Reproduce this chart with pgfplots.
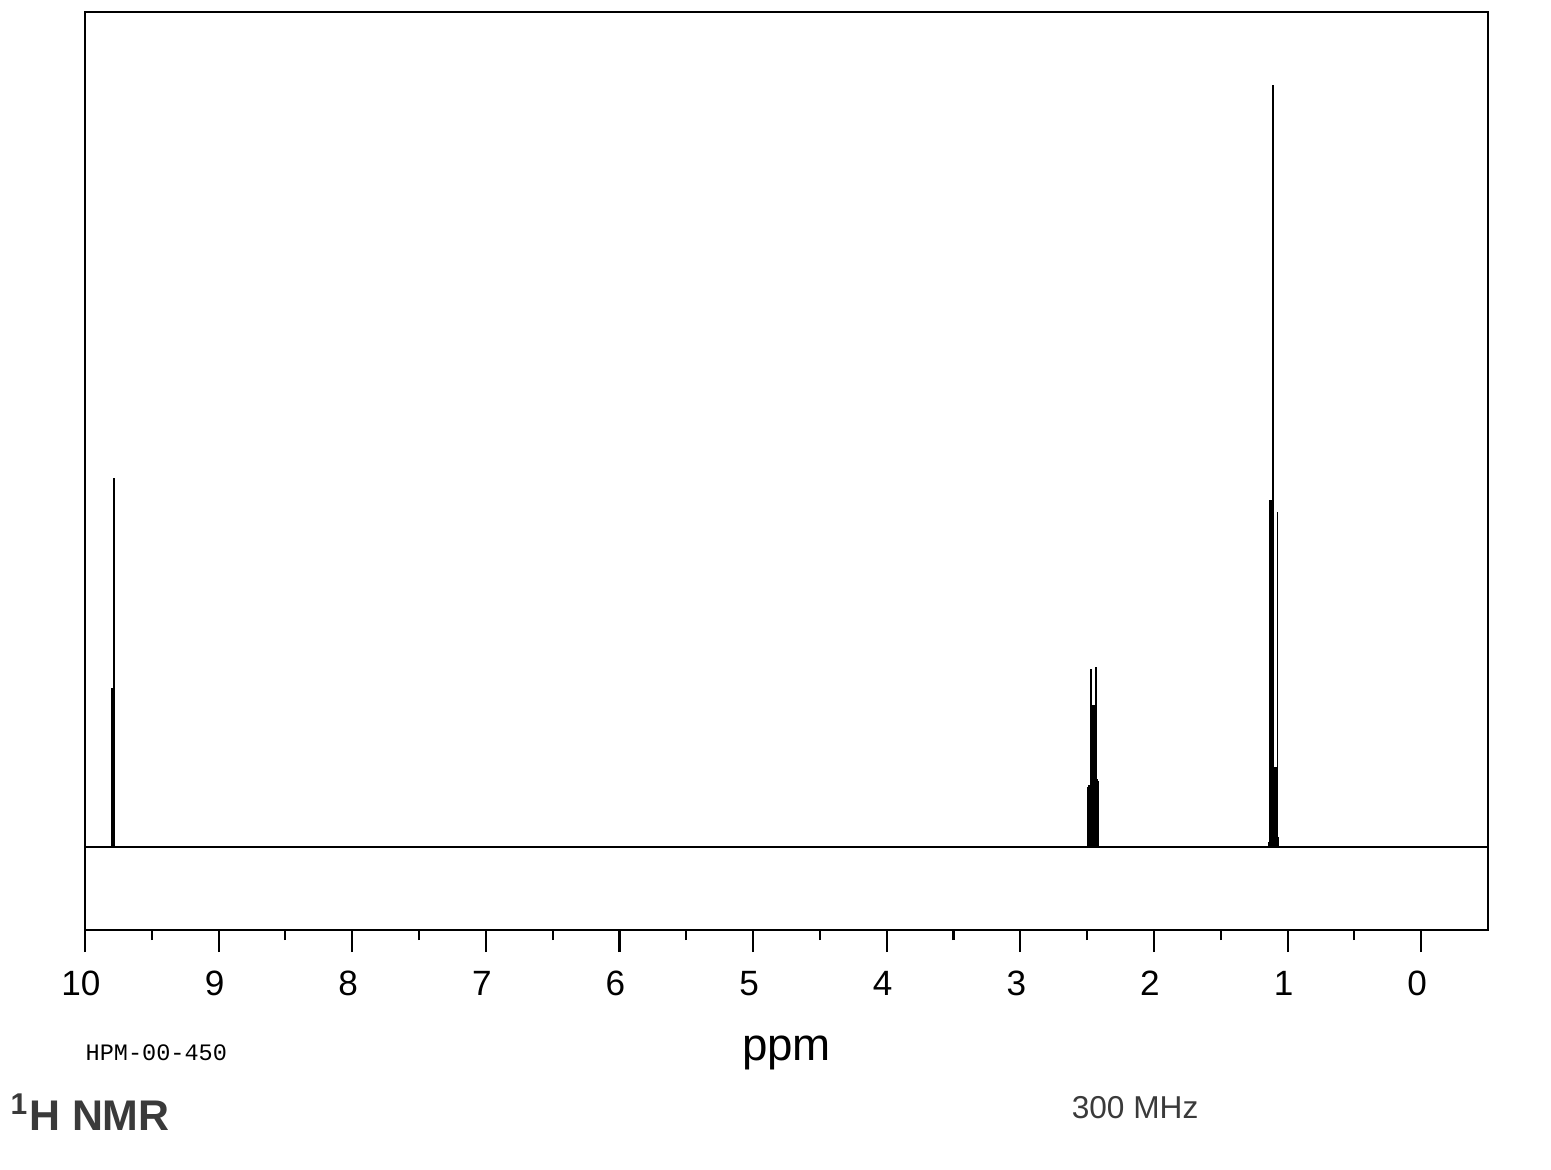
\documentclass[border=0pt]{standalone}
\usepackage{fontspec}
\setmainfont{Liberation Sans}
\newfontfamily\monofont{Liberation Mono}
\usepackage{pgfplots}
\pgfplotsset{compat=1.18}
\definecolor{txtgray}{HTML}{3A3A3A}
\begin{document}
\begin{tikzpicture}
\begin{axis}[
  scale only axis, width=140.3mm, height=91.8mm,
  x dir=reverse, xmin=-0.5, xmax=10, ymin=-83, ymax=835,
  axis line style={line width=0.6pt},
  xtick={0,1,2,3,4,5,6,7,8,9,10},
  minor xtick={0.5,1.5,2.5,3.5,4.5,5.5,6.5,7.5,8.5,9.5},
  ytick=\empty, xtick pos=lower,
  tick align=outside,
  major tick length=2.2mm, minor tick length=1.0mm,
  every tick/.style={black, line width=0.6pt},
  xticklabel style={font=\fontsize{10}{12}\selectfont, anchor=base, yshift=-4.3mm, xshift=-0.4mm},
  /pgf/number format/assume math mode=true,
  clip=false,
]
% baseline
\addplot[black, line width=0.6pt] coordinates {(-0.5,0) (10,0)};
% peaks
\addplot[ycomb, black, line width=0.5pt, mark=none] coordinates {
 (9.802,159) (9.794,159) (9.785,369)
 (2.4925,60) (2.4850,62) (2.4738,178) (2.4663,142) (2.4588,142) (2.4513,142) (2.4439,142) (2.4349,180) (2.4274,68) (2.4199,66)
 (1.1415,5) (1.1340,347) (1.1265,347) (1.1190,347) (1.1093,762) (1.1003,80) (1.0928,80) (1.0853,80) (1.0756,335) (1.0681,10)
};
\node[anchor=base] at (axis cs:4.75,-213) {\fontsize{13}{15}\selectfont ppm};
\node[anchor=base west, inner sep=0pt] at (axis cs:10,-213) {\monofont\fontsize{6.7}{8}\selectfont HPM-00-450};
\node[anchor=base west, inner sep=0pt, text=txtgray] at (axis cs:10.561,-283) {\fontsize{12.2}{14}\selectfont\bfseries\textsuperscript{1}H NMR};
\node[anchor=base, inner sep=0pt, text=txtgray] at (axis cs:2.141,-271) {\fontsize{9}{11}\selectfont 300 MHz};
\end{axis}
\path ([shift={(-8.5mm,-23.9mm)}]current axis.south west) rectangle ([shift={(6.3mm,1.2mm)}]current axis.north east);
\end{tikzpicture}
\end{document}
